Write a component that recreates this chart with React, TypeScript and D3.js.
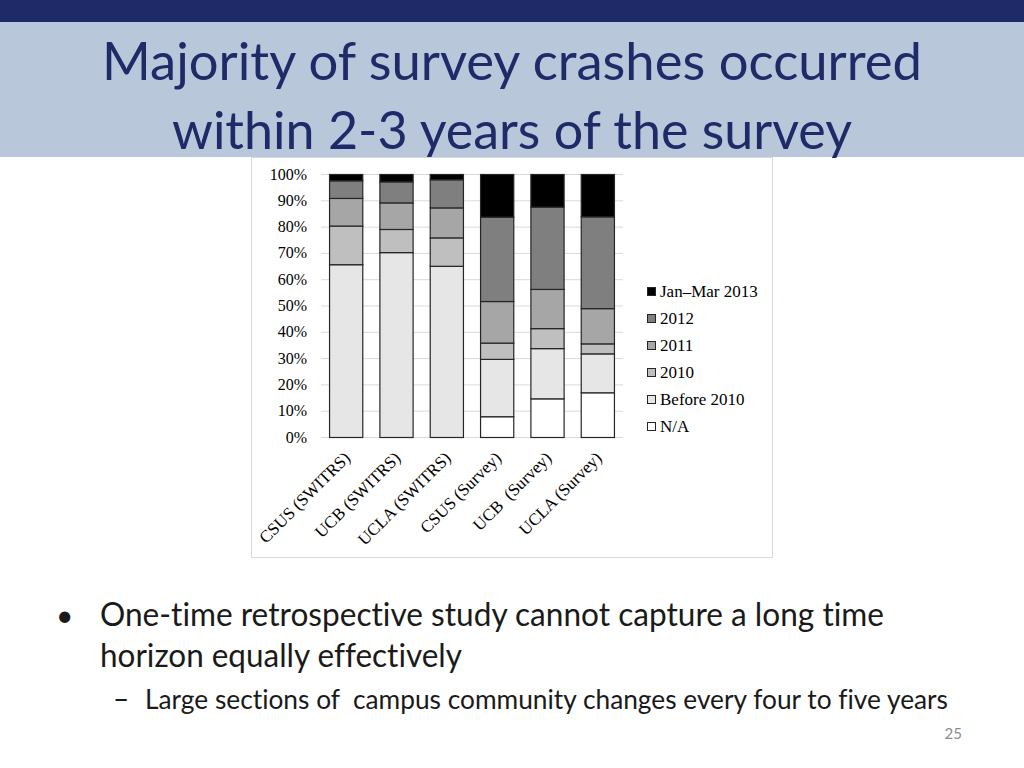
import React from "react";
import * as d3 from "d3";

const categories = ["CSUS (SWITRS)", "UCB (SWITRS)", "UCLA (SWITRS)", "CSUS (Survey)", "UCB  (Survey)", "UCLA (Survey)"];
const seriesKeys = ["N/A", "Before 2010", "2010", "2011", "2012", "Jan–Mar 2013"];
const naValues = [0, 0, 0, 7.9, 14.7, 17.0];
const before2010Values = [65.7, 70.3, 65.1, 21.8, 19.1, 14.8];
const y2010Values = [14.7, 8.8, 10.8, 6.2, 7.6, 3.8];
const y2011Values = [10.5, 10.1, 11.4, 15.8, 14.9, 13.4];
const y2012Values = [6.7, 8.0, 10.7, 32.1, 31.3, 34.9];
const janMar2013Values = [2.4, 2.8, 2.0, 16.2, 12.4, 16.1];
const yTicks = [0, 10, 20, 30, 40, 50, 60, 70, 80, 90, 100];
const seriesColors = ["#ffffff", "#e6e6e6", "#bfbfbf", "#a6a6a6", "#7f7f7f", "#000000"];

const allSeries = [naValues, before2010Values, y2010Values, y2011Values, y2012Values, janMar2013Values];

export default function App() {
  const rows = categories.map((c, i) => {
    const r: any = { cat: c };
    seriesKeys.forEach((k, j) => (r[k] = allSeries[j][i]));
    return r;
  });
  const stacked = d3.stack().keys(seriesKeys)(rows);
  const x = d3.scaleBand().domain(categories).range([321, 623]).paddingInner(0.34).paddingOuter(0.17);
  const y = d3.scaleLinear().domain([0, 100]).range([437.5, 174.5]);
  const serif = "'Liberation Serif', 'Times New Roman', serif";
  const sans = "Lato, 'Open Sans', sans-serif";
  const legendOrder = [...seriesKeys].reverse();
  const noLig = { fontVariantLigatures: "none" as const, fontFeatureSettings: "'liga' 0, 'clig' 0" };

  return (
    <svg width={1024} height={768} style={{ position: "absolute", left: 0, top: 0, background: "#fff" }}>
      <rect x={0} y={0} width={1024} height={768} fill="#ffffff" />
      <rect x={0} y={0} width={1024} height={22} fill="#1f2a68" />
      <rect x={0} y={22} width={1024} height={135} fill="#b9c7da" />
      <text x={512} y={80} textAnchor="middle" fontFamily={sans} fontSize={53} fill="#1f2a68" textLength={820} lengthAdjust="spacingAndGlyphs" style={noLig}>
        Majority of survey crashes occurred
      </text>
      <text x={512} y={149} textAnchor="middle" fontFamily={sans} fontSize={53} fill="#1f2a68" textLength={680} lengthAdjust="spacingAndGlyphs" style={noLig}>
        within 2-3 years of the survey
      </text>

      <rect x={251.5} y={157.5} width={521} height={400} fill="#ffffff" stroke="#d9d9d9" strokeWidth={1} />

      {yTicks.map((t) => (
        <g key={t}>
          <line x1={321} x2={623} y1={y(t)} y2={y(t)} stroke="#d9d9d9" strokeWidth={1} />
          <text x={307} y={y(t) + 5} textAnchor="end" fontFamily={serif} fontSize={16} fill="#000">
            {t}%
          </text>
        </g>
      ))}

      {stacked.map((s, si) => (
        <g key={s.key}>
          {s.map((d, i) => (
            <rect
              key={i}
              x={x(categories[i])}
              y={y(d[1])}
              width={x.bandwidth()}
              height={Math.max(0, y(d[0]) - y(d[1]))}
              fill={seriesColors[si]}
              stroke="#262626"
              strokeWidth={1.2}
            />
          ))}
        </g>
      ))}

      {categories.map((c) => {
        const cx = (x(c) as number) + x.bandwidth() / 2 + 5;
        const cy = 459;
        return (
          <text
            key={c}
            x={cx}
            y={cy}
            transform={`rotate(-45 ${cx} ${cy})`}
            textAnchor="end"
            fontFamily={serif}
            fontSize={17}
            fill="#000"
            style={{ whiteSpace: "pre" }}
          >
            {c}
          </text>
        );
      })}

      {legendOrder.map((k, i) => {
        const si = seriesKeys.indexOf(k);
        const by = 297 + i * 27;
        return (
          <g key={k}>
            <rect x={647.5} y={by - 9.5} width={8} height={8} fill={seriesColors[si]} stroke="#262626" strokeWidth={1} />
            <text x={660} y={by} fontFamily={serif} fontSize={17} fill="#000">
              {k}
            </text>
          </g>
        );
      })}

      <text x={56} y={626} fontFamily={sans} fontSize={30} fill="#1a1a1a">•</text>
      <text x={100} y={626} fontFamily={sans} fontSize={32} fill="#1a1a1a" textLength={784} lengthAdjust="spacingAndGlyphs" style={noLig}>
        One-time retrospective study cannot capture a long time
      </text>
      <text x={100} y={667} fontFamily={sans} fontSize={32} fill="#1a1a1a" textLength={362} lengthAdjust="spacingAndGlyphs" style={noLig}>
        horizon equally effectively
      </text>
      <text x={113} y={709} fontFamily={sans} fontSize={28} fill="#1a1a1a">–</text>
      <text x={145} y={709} fontFamily={sans} fontSize={27} fill="#1a1a1a" textLength={803} lengthAdjust="spacingAndGlyphs" style={{ whiteSpace: "pre", ...noLig }}>
        Large sections of  campus community changes every four to five years
      </text>
      <text x={962} y={739} textAnchor="end" fontFamily={sans} fontSize={15} fill="#8c8c8c">25</text>
    </svg>
  );
}
